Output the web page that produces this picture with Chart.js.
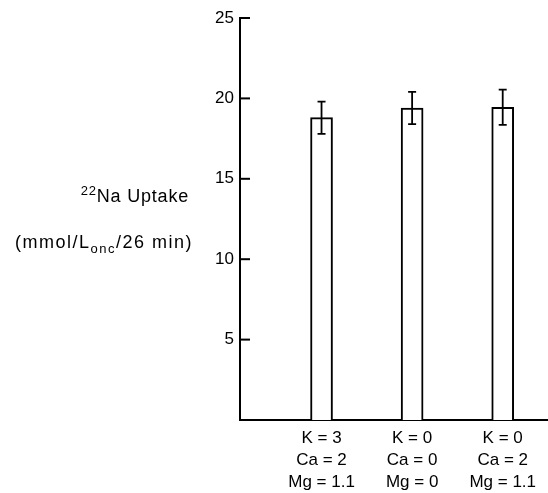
<!DOCTYPE html>
<html>
<head>
<meta charset="utf-8">
<script src="https://cdn.jsdelivr.net/npm/chart.js@4.4.1/dist/chart.umd.min.js"></script>
<style>
  html, body { margin: 0; padding: 0; background: #fff; }
  #wrap { width: 548px; height: 493px; }
</style>
</head>
<body>
<div id="wrap"><canvas id="uptake_chart"></canvas></div>
<script>
// solution conditions (mM)
var conditions = [
    ['K = 3', 'Ca = 2', 'Mg = 1.1'],
    ['K = 0', 'Ca = 0', 'Mg = 0'],
    ['K = 0', 'Ca = 2', 'Mg = 1.1']
];
var positions = [1, 2, 3];
var uptakeMeans = [18.8, 19.4, 19.45];
var uptakeErrors = [1.0, 1.0, 1.1];
var yTicks = [5, 10, 15, 20, 25];

var FONT = "'Liberation Sans', Arial, Helvetica, sans-serif";

document.addEventListener("DOMContentLoaded", function() {
    var ctx = document.getElementById('uptake_chart').getContext('2d');

    var points = positions.map(function(p, i) {
        return { x: p, y: uptakeMeans[i] };
    });

    // error bars, inward ticks and the y title
    var extras = {
        id: 'extras',
        afterDatasetsDraw: function(chart) {
            var c = chart.ctx;
            var xs = chart.scales.x, ys = chart.scales.y;
            c.save();
            c.strokeStyle = '#000';
            c.lineWidth = 1.8;
            positions.forEach(function(p, i) {
                var x = xs.getPixelForValue(p);
                var top = ys.getPixelForValue(uptakeMeans[i] + uptakeErrors[i]);
                var bot = ys.getPixelForValue(uptakeMeans[i] - uptakeErrors[i]);
                c.beginPath();
                c.moveTo(x, top); c.lineTo(x, bot);
                c.moveTo(x - 4, top); c.lineTo(x + 4, top);
                c.moveTo(x - 4, bot); c.lineTo(x + 4, bot);
                c.stroke();
            });
            c.lineWidth = 2;
            yTicks.forEach(function(v) {
                var y = ys.getPixelForValue(v);
                c.beginPath();
                c.moveTo(chart.chartArea.left, y);
                c.lineTo(chart.chartArea.left + 10, y);
                c.stroke();
            });
            c.restore();
        },
        afterDraw: function(chart) {
            var c = chart.ctx;
            var right = chart.chartArea.left - 51;
            c.save();
            c.fillStyle = '#000';
            c.textBaseline = 'alphabetic';
            c.letterSpacing = '0.8px';
            // line 1: 22Na Uptake
            c.font = '18px ' + FONT;
            var w1 = c.measureText('Na Uptake').width;
            c.font = '13px ' + FONT;
            var w0 = c.measureText('22').width;
            var x = right - w1 - w0;
            c.fillText('22', x, 195);
            c.font = '18px ' + FONT;
            c.fillText('Na Uptake', x + w0, 202);
            // line 2: (mmol/Lonc/26 min)
            c.letterSpacing = '1.5px';
            var a = '(mmol/L', b = 'onc', d = '/26 min)';
            c.font = '18px ' + FONT;
            var wa = c.measureText(a).width, wd = c.measureText(d).width;
            c.font = '13px ' + FONT;
            var wb = c.measureText(b).width;
            x = right + 4 - wa - wb - wd;
            c.font = '18px ' + FONT;
            c.fillText(a, x, 248);
            c.font = '13px ' + FONT;
            c.fillText(b, x + wa, 253);
            c.font = '18px ' + FONT;
            c.fillText(d, x + wa + wb, 248);
            c.restore();
        }
    };

    new Chart(ctx, {
        type: 'bar',
        data: {
            datasets: [{
                data: points,
                backgroundColor: '#fff',
                borderColor: '#000',
                borderWidth: 2,
                barThickness: 22
            }]
        },
        options: {
            responsive: true,
            maintainAspectRatio: false,
            animation: false,
            layout: { padding: { top: 18, right: 0, left: 0, bottom: 0 } },
            plugins: {
                legend: { display: false },
                tooltip: { enabled: false }
            },
            scales: {
                x: {
                    type: 'linear',
                    min: 0.1,
                    max: 3.5,
                    offset: false,
                    grid: { display: false, drawTicks: false, tickLength: 0 },
                    border: { display: true, color: '#000', width: 2 },
                    afterBuildTicks: function(scale) {
                        scale.ticks = positions.map(function(p) { return { value: p }; });
                    },
                    afterFit: function(scale) { scale.height = 73; },
                    ticks: {
                        color: '#000',
                        padding: 7,
                        maxRotation: 0,
                        autoSkip: false,
                        font: { family: FONT, size: 17, lineHeight: 1.3 },
                        callback: function(value) {
                            var i = positions.indexOf(value);
                            return i >= 0 ? conditions[i] : '';
                        }
                    }
                },
                y: {
                    min: 0,
                    max: 25,
                    grid: { display: false, drawTicks: false, tickLength: 0 },
                    border: { display: true, color: '#000', width: 2 },
                    afterBuildTicks: function(scale) {
                        scale.ticks = yTicks.map(function(v) { return { value: v }; });
                    },
                    afterFit: function(scale) { scale.width = 240; },
                    ticks: {
                        color: '#000',
                        padding: 6,
                        font: { family: FONT, size: 17 }
                    }
                }
            }
        },
        plugins: [extras]
    });
});
</script>
</body>
</html>
